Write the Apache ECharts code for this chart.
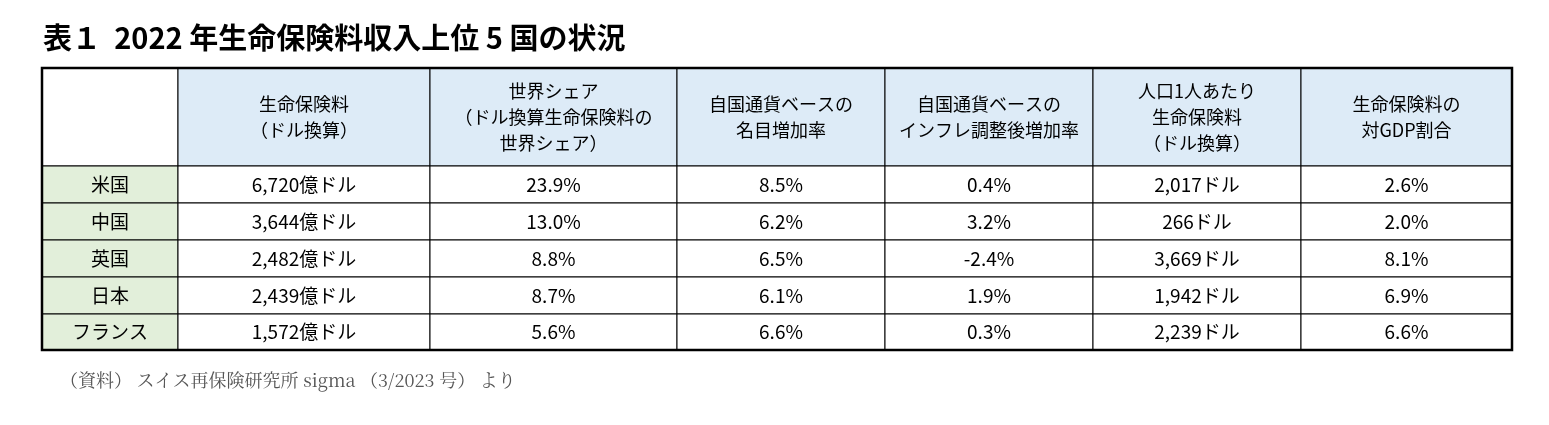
<!DOCTYPE html>
<html>
<head>
<meta charset="utf-8">
<script src="https://cdn.jsdelivr.net/npm/echarts@6/dist/echarts.min.js"></script>
<style>html,body{margin:0;padding:0;background:#fff}#main{width:1549px;height:425px}</style>
</head>
<body>
<div id="main"></div>
<script>
const headers = ['', '生命保険料\n（ドル換算）', '世界シェア\n（ドル換算生命保険料の\n世界シェア）', '自国通貨ベースの\n名目増加率', '自国通貨ベースの\nインフレ調整後増加率', '人口1人あたり\n生命保険料\n（ドル換算）', '生命保険料の\n対GDP割合']
const countries = ['米国', '中国', '英国', '日本', 'フランス']
const premiums = ['6,720億ドル', '3,644億ドル', '2,482億ドル', '2,439億ドル', '1,572億ドル']
const shares = ['23.9%', '13.0%', '8.8%', '8.7%', '5.6%']
const nominal = ['8.5%', '6.2%', '6.5%', '6.1%', '6.6%']
const real = ['0.4%', '3.2%', '-2.4%', '1.9%', '0.3%']
const perCapita = ['2,017ドル', '266ドル', '3,669ドル', '1,942ドル', '2,239ドル']
const gdpRatio = ['2.6%', '2.0%', '8.1%', '6.9%', '6.6%']

// layout (pixel grid)
const colEdges = [42, 178, 430, 677, 885, 1093, 1301, 1512]
const rowEdges = [68, 166, 203, 240, 277, 314, 350]

const columns = [countries, premiums, shares, nominal, real, perCapita, gdpRatio]
const cells = []
for (let c = 0; c < 7; c++) {
  cells.push([c, 0, headers[c]])
  for (let r = 0; r < 5; r++) cells.push([c, r + 1, columns[c][r]])
}

const chart = echarts.init(document.getElementById('main'))
const font = '"Noto Sans CJK JP", sans-serif'
chart.setOption({
  animation: false,
  title: {
    text: '表１  2022 年生命保険料収入上位 5 国の状況',
    left: 38, top: 18,
    textStyle: { fontSize: 29, fontWeight: 'bold', color: '#000', fontFamily: font },
  },
  graphic: [{
    type: 'text', left: 60, top: 371,
    style: { text: '（資料） スイス再保険研究所 sigma （3/2023 号） より', fontSize: 18, fill: '#555', fontFamily: '"Noto Serif CJK JP", "DejaVu Serif", serif' },
  }],
  grid: { left: 0, right: 0, top: 0, bottom: 0 },
  xAxis: { type: 'value', min: 0, max: 1549, show: false },
  yAxis: { type: 'value', min: 0, max: 425, inverse: true, show: false },
  series: [{
    type: 'custom',
    data: cells,
    renderItem: (params, api) => {
      const c = api.value(0), r = api.value(1)
      const p0 = api.coord([colEdges[c], rowEdges[r]])
      const p1 = api.coord([colEdges[c + 1], rowEdges[r + 1]])
      let fill = '#fff'
      if (r === 0 && c > 0) fill = '#DDEBF7'
      else if (c === 0 && r > 0) fill = '#E2EFDA'
      return {
        type: 'group',
        children: [{
          type: 'rect',
          shape: { x: p0[0], y: p0[1], width: p1[0] - p0[0], height: p1[1] - p0[1] },
          style: { fill, stroke: '#000', lineWidth: 1 },
        }, {
          type: 'text',
          style: {
            text: cells[params.dataIndex][2],
            x: (p0[0] + p1[0]) / 2, y: (p0[1] + p1[1]) / 2,
            align: 'center', verticalAlign: 'middle',
            fontSize: r === 0 ? 18 : 19, lineHeight: 26,
            fontFamily: font, fill: '#000',
          },
        }],
      }
    },
  }, {
    type: 'custom',
    data: [[0]],
    renderItem: (params, api) => {
      const p0 = api.coord([colEdges[0], rowEdges[0]])
      const p1 = api.coord([colEdges[7], rowEdges[6]])
      return {
        type: 'rect',
        shape: { x: p0[0], y: p0[1], width: p1[0] - p0[0], height: p1[1] - p0[1] },
        style: { fill: 'none', stroke: '#000', lineWidth: 2.5 },
      }
    },
  }],
})
</script>
</body>
</html>
